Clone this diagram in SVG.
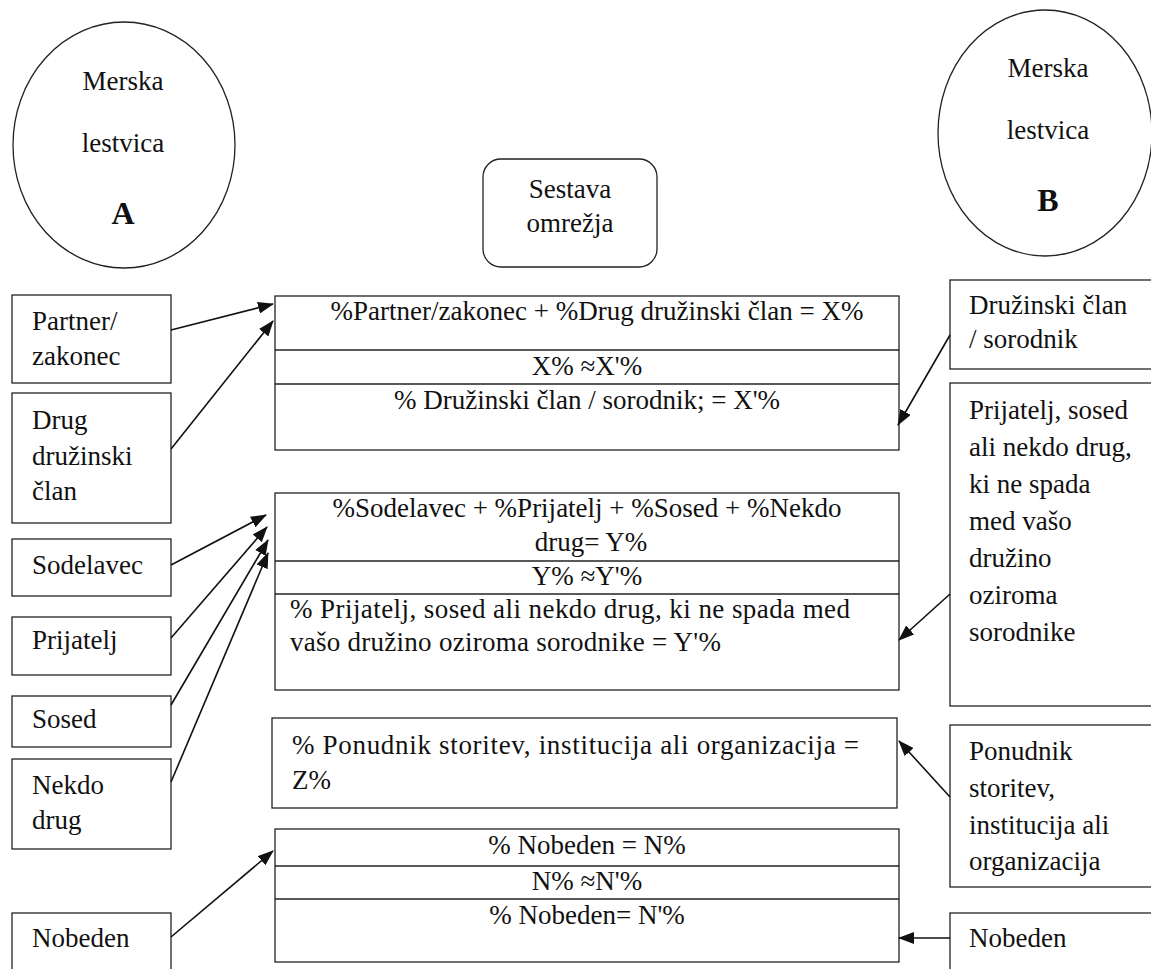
<svg xmlns="http://www.w3.org/2000/svg" width="1151" height="969" viewBox="0 0 1151 969">
<style>
text{font-family:"Liberation Serif","Times New Roman",serif;font-size:27px;fill:#111}
.c{text-anchor:middle}
.b{font-weight:bold;font-size:32px}
.box{fill:#fff;stroke:#222;stroke-width:1.3}
.div{stroke:#222;stroke-width:1.3}
.con{stroke:#111;stroke-width:1.6;fill:none;marker-end:url(#ah)}
</style>
<defs>
<marker id="ah" viewBox="0 0 16 12" refX="15" refY="6" markerWidth="16" markerHeight="12" markerUnits="userSpaceOnUse" orient="auto">
<path d="M0,0 L16,6 L0,12 z" fill="#111"/>
</marker>
</defs>
<rect width="1151" height="969" fill="#fff"/>

<g id="scaleA">
<ellipse class="box" cx="124" cy="145" rx="111" ry="123"/>
<text class="c" x="123" y="90">Merska</text>
<text class="c" x="123" y="152">lestvica</text>
<text class="c b" x="123" y="224">A</text>
</g>
<g id="scaleB">
<ellipse class="box" cx="1045" cy="133" rx="107" ry="123"/>
<text class="c" x="1048" y="77">Merska</text>
<text class="c" x="1048" y="139">lestvica</text>
<text class="c b" x="1048" y="211">B</text>
</g>
<g id="sestava">
<rect class="box" x="483" y="159" width="174" height="108" rx="18"/>
<text class="c" x="570" y="198">Sestava</text>
<text class="c" x="570" y="232">omrežja</text>
</g>

<g id="partner">
<rect class="box" x="12" y="295" width="159" height="88"/>
<text x="32" y="330">Partner/</text>
<text x="32" y="365">zakonec</text>
</g>
<g id="drug">
<rect class="box" x="12" y="393" width="159" height="130"/>
<text x="32" y="429">Drug</text>
<text x="32" y="465">družinski</text>
<text x="32" y="500">član</text>
</g>
<g id="sodelavec">
<rect class="box" x="12" y="539" width="159" height="57"/>
<text x="32" y="574">Sodelavec</text>
</g>
<g id="prijatelj">
<rect class="box" x="12" y="617" width="159" height="58"/>
<text x="32" y="649">Prijatelj</text>
</g>
<g id="sosed">
<rect class="box" x="12" y="696" width="159" height="51"/>
<text x="32" y="728">Sosed</text>
</g>
<g id="nekdo">
<rect class="box" x="12" y="759" width="159" height="90"/>
<text x="32" y="794">Nekdo</text>
<text x="32" y="829">drug</text>
</g>
<g id="nobedenL">
<rect class="box" x="12" y="913" width="159" height="70"/>
<text x="32" y="947">Nobeden</text>
</g>

<g id="boxX">
<rect class="box" x="275" y="296" width="624" height="154"/>
<line class="div" x1="275" y1="350" x2="899" y2="350"/>
<line class="div" x1="275" y1="384" x2="899" y2="384"/>
<text class="c" x="597" y="320">%Partner/zakonec + %Drug družinski član = X%</text>
<text class="c" x="587" y="375">X% ≈X'%</text>
<text class="c" x="587" y="409">% Družinski član / sorodnik; = X'%</text>
</g>
<g id="boxY">
<rect class="box" x="275" y="493" width="624" height="197"/>
<line class="div" x1="275" y1="561" x2="899" y2="561"/>
<line class="div" x1="275" y1="594" x2="899" y2="594"/>
<text class="c" x="587" y="517">%Sodelavec + %Prijatelj + %Sosed + %Nekdo</text>
<text class="c" x="591" y="551">drug= Y%</text>
<text class="c" x="587" y="585">Y% ≈Y'%</text>
<text x="290" y="618" textLength="560" lengthAdjust="spacing">% Prijatelj, sosed ali nekdo drug, ki ne spada med</text>
<text x="290" y="651" textLength="431" lengthAdjust="spacing">vašo družino oziroma sorodnike = Y'%</text>
</g>
<g id="boxZ">
<rect class="box" x="272" y="718" width="625" height="90"/>
<text x="292" y="754" textLength="567" lengthAdjust="spacing">% Ponudnik storitev, institucija ali organizacija =</text>
<text x="292" y="789">Z%</text>
</g>
<g id="boxN">
<rect class="box" x="275" y="829" width="624" height="133"/>
<line class="div" x1="275" y1="866" x2="899" y2="866"/>
<line class="div" x1="275" y1="899" x2="899" y2="899"/>
<text class="c" x="587" y="854">% Nobeden = N%</text>
<text class="c" x="587" y="890">N% ≈N'%</text>
<text class="c" x="587" y="924">% Nobeden= N'%</text>
</g>

<g id="druzinski">
<rect class="box" x="950" y="280" width="210" height="89"/>
<text x="969" y="314">Družinski član</text>
<text x="969" y="348">/ sorodnik</text>
</g>
<g id="prijateljR">
<rect class="box" x="950" y="383" width="210" height="323"/>
<text x="969" y="419">Prijatelj, sosed</text>
<text x="969" y="456">ali nekdo drug,</text>
<text x="969" y="493">ki ne spada</text>
<text x="969" y="530">med vašo</text>
<text x="969" y="567">družino</text>
<text x="969" y="604">oziroma</text>
<text x="969" y="641">sorodnike</text>
</g>
<g id="ponudnik">
<rect class="box" x="950" y="725" width="210" height="162"/>
<text x="969" y="760">Ponudnik</text>
<text x="969" y="797">storitev,</text>
<text x="969" y="834">institucija ali</text>
<text x="969" y="870">organizacija</text>
</g>
<g id="nobedenR">
<rect class="box" x="950" y="913" width="210" height="70"/>
<text x="969" y="947">Nobeden</text>
</g>

<g id="connectors">
<line class="con" x1="171" y1="330" x2="273" y2="304"/>
<line class="con" x1="171" y1="449" x2="273" y2="321"/>
<line class="con" x1="171" y1="565" x2="266" y2="515"/>
<line class="con" x1="171" y1="638" x2="267" y2="527"/>
<line class="con" x1="171" y1="705" x2="268" y2="540"/>
<line class="con" x1="171" y1="782" x2="268" y2="553"/>
<line class="con" x1="171" y1="937" x2="273" y2="851"/>
<line class="con" x1="950" y1="335" x2="898" y2="425"/>
<line class="con" x1="950" y1="594" x2="899" y2="640"/>
<line class="con" x1="950" y1="797" x2="899" y2="741"/>
<line class="con" x1="950" y1="938" x2="899" y2="938"/>
</g>
</svg>
